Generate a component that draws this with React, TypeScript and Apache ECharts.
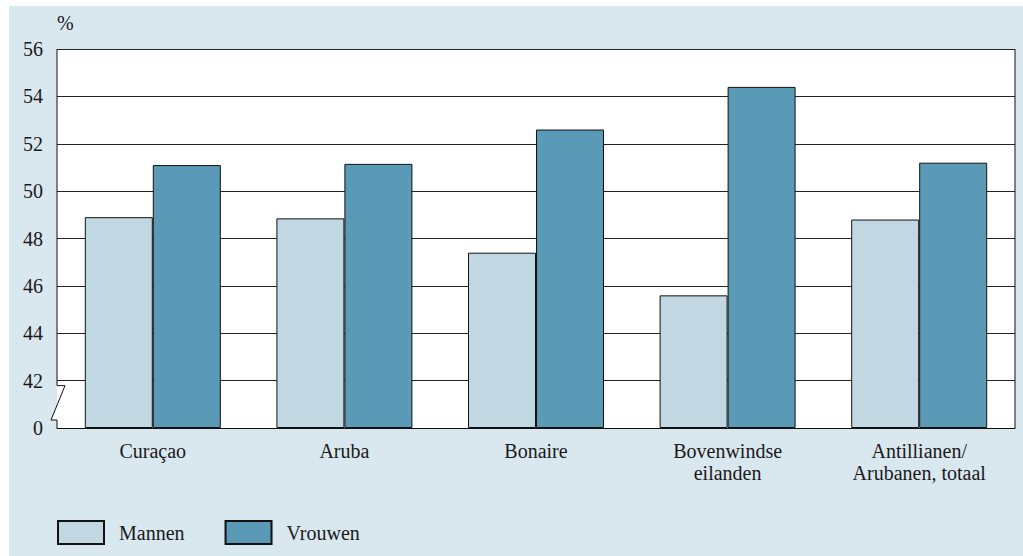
import React, { useEffect, useRef } from "react";
import * as echarts from "echarts";

const categories = [
  "Curaçao",
  "Aruba",
  "Bonaire",
  "Bovenwindse\neilanden",
  "Antillianen/\nArubanen, totaal",
];
const mannen = [48.9, 48.85, 47.4, 45.6, 48.8];
const vrouwen = [51.1, 51.15, 52.6, 54.4, 51.2];
const seriesNames = ["Mannen", "Vrouwen"];
// axis is broken between 0 and 42: values >= 42 are drawn shifted down by BREAK_SHIFT
const BREAK_SHIFT = 40;
const yMax = 56;
const yStep = 2;

const FONT = "Liberation Serif";
const BG = "#d9e7ef";
const C_MAN = "#c1d8e3";
const C_WOMAN = "#5a9ab7";

export default function App() {
  const ref = useRef<HTMLDivElement>(null);
  useEffect(() => {
    if (!ref.current) return;
    const chart = echarts.init(ref.current, undefined, { renderer: "svg" });
    const gridLeft = 48;
    const gridRight = 8;
    const W = 1014;
    chart.setOption({
      animation: false,
      backgroundColor: BG,
      grid: {
        left: gridLeft,
        right: gridRight,
        top: 43,
        bottom: 128,
        show: true,
        backgroundColor: "#ffffff",
        borderWidth: 0,
      },
      legend: {
        left: 48,
        top: 514,
        padding: 0,
        itemWidth: 46,
        itemHeight: 23,
        itemGap: 40,
        icon: "rect",
        data: seriesNames,
        textStyle: {
          fontFamily: FONT,
          fontSize: 20,
          color: "#1a1a1a",
          padding: [12, 0, 0, 10],
        },
      },
      xAxis: {
        type: "category",
        data: categories,
        axisLine: { show: true, lineStyle: { color: "#111", width: 1 } },
        axisTick: { show: false },
        axisLabel: {
          fontFamily: FONT,
          fontSize: 20,
          lineHeight: 22,
          color: "#1a1a1a",
          margin: 12,
          interval: 0,
        },
      },
      yAxis: {
        type: "value",
        min: 0,
        max: yMax - BREAK_SHIFT,
        interval: yStep,
        name: "%",
        nameLocation: "end",
        nameGap: 16,
        nameTextStyle: {
          fontFamily: FONT,
          fontSize: 20,
          color: "#1a1a1a",
          align: "left",
        },
        axisLine: { show: false },
        axisTick: { show: false },
        axisLabel: {
          fontFamily: FONT,
          fontSize: 20,
          color: "#1a1a1a",
          margin: 14,
          formatter: (v: number) => (v === 0 ? "0" : String(v + BREAK_SHIFT)),
        },
        splitLine: { show: true, lineStyle: { color: "#222", width: 1 } },
      },
      series: [
        {
          name: seriesNames[0],
          type: "bar",
          barWidth: 68,
          barGap: "0%",
          data: mannen.map((v) => +(v - BREAK_SHIFT).toFixed(3)),
          itemStyle: { color: C_MAN, borderColor: "#111", borderWidth: 1 },
        },
        {
          name: seriesNames[1],
          type: "bar",
          barWidth: 68,
          barGap: "0%",
          data: vrouwen.map((v) => +(v - BREAK_SHIFT).toFixed(3)),
          itemStyle: { color: C_WOMAN, borderColor: "#111", borderWidth: 1 },
        },
      ],
    });

    const yTop = chart.convertToPixel({ yAxisIndex: 0 }, yMax - BREAK_SHIFT) as number;
    const y42 = chart.convertToPixel({ yAxisIndex: 0 }, yStep) as number;
    const y0 = chart.convertToPixel({ yAxisIndex: 0 }, 0) as number;
    const xL = gridLeft;
    const xR = W - gridRight;
    const bTop = y42 + 5;
    const bBot = y0 - 8;
    chart.setOption({
      graphic: [
        {
          type: "polygon",
          z: 50,
          shape: { points: [[xL, bTop], [xL + 8, bTop], [xL - 6, bBot], [xL, bBot]] },
          style: { fill: "#ffffff", stroke: null },
        },
        {
          type: "polyline",
          z: 51,
          shape: {
            points: [
              [xL, yTop],
              [xL, bTop],
              [xL + 8, bTop],
              [xL - 6, bBot],
              [xL, bBot],
              [xL, y0],
            ],
          },
          style: { stroke: "#111", lineWidth: 1, fill: null },
        },
        {
          type: "line",
          z: 51,
          shape: { x1: xR, y1: yTop, x2: xR, y2: y0 },
          style: { stroke: "#111", lineWidth: 1 },
        },
      ],
    });
    return () => chart.dispose();
  }, []);
  return (
    <div
      ref={ref}
      style={{ position: "absolute", left: 9, top: 6, width: 1014, height: 550 }}
    />
  );
}
